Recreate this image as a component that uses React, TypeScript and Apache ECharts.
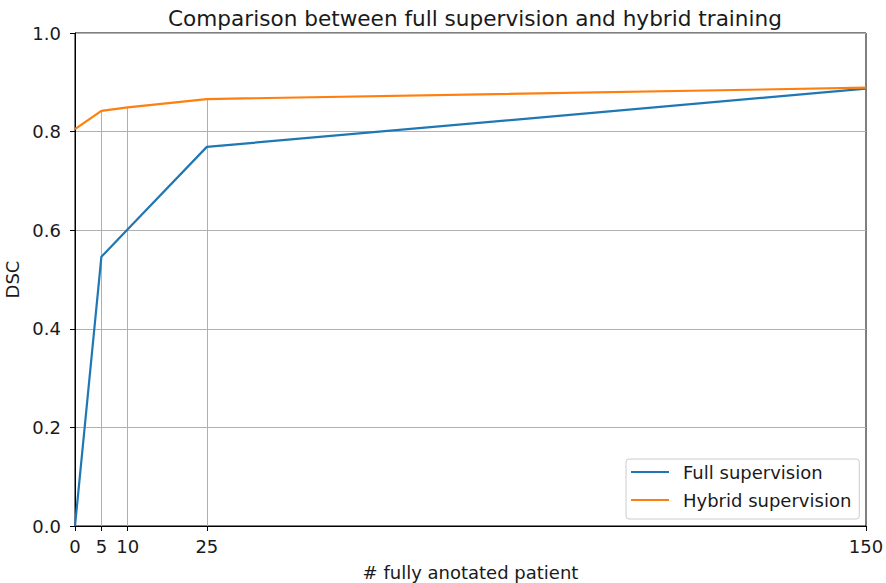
import React, { useEffect, useRef } from "react";
import * as echarts from "echarts";

const xValues = [0, 5, 10, 25, 150];
const fullSupervision = [0.0, 0.546, 0.602, 0.769, 0.887];
const hybridSupervision = [0.805, 0.842, 0.849, 0.866, 0.889];
const xTickLabels = [0, 5, 10, 25, 150];
const guideXs = [5, 10, 25];
const seriesNames = ["Full supervision", "Hybrid supervision"];

const FONT = "DejaVu Sans";
const TXT = "#1a1a1a";

export default function App() {
  const ref = useRef<HTMLDivElement>(null);
  useEffect(() => {
    if (!ref.current) return;
    const chart = echarts.init(ref.current, null, { renderer: "svg" });
    const guideData = guideXs.map((gx) => {
      const idx = xValues.indexOf(gx);
      return [{ coord: [gx, 0] }, { coord: [gx, hybridSupervision[idx]] }];
    });
    chart.setOption({
      animation: false,
      textStyle: { fontFamily: FONT },
      title: {
        text: "Comparison between full supervision and hybrid training",
        left: 470,
        textAlign: "center",
        top: 2,
        textStyle: { fontFamily: FONT, fontSize: 21.6, fontWeight: "normal", color: TXT },
      },
      grid: {
        left: 75,
        right: 20,
        top: 33,
        bottom: 57,
        outerBoundsMode: "none",
        containLabel: false,
        show: true,
        borderColor: "#000",
        borderWidth: 1,
        backgroundColor: "transparent",
      },
      legend: {
        orient: "vertical",
        left: 626,
        top: 459,
        padding: [4, 8, 10, 5],
        itemGap: 10,
        itemWidth: 38,
        itemHeight: 2,
        icon: "rect",
        borderColor: "#cccccc",
        borderWidth: 1,
        borderRadius: 3,
        backgroundColor: "rgba(255,255,255,0.8)",
        textStyle: { fontFamily: FONT, fontSize: 18, lineHeight: 18, color: TXT, padding: [0, 0, 0, 9] },
        data: seriesNames,
      },
      xAxis: {
        type: "value",
        min: 0,
        max: 150,
        name: "# fully anotated patient",
        nameLocation: "middle",
        nameGap: 37,
        nameTextStyle: { fontFamily: FONT, fontSize: 18, color: TXT },
        axisLine: { show: true, lineStyle: { color: "#000", width: 1 } },
        axisTick: {
          show: true,
          inside: false,
          length: 5,
          customValues: xTickLabels,
          lineStyle: { color: "#000" },
        },
        axisLabel: {
          customValues: xTickLabels,
          fontFamily: FONT,
          fontSize: 18,
          color: TXT,
          margin: 11,
        },
        splitLine: { show: false },
      },
      yAxis: {
        type: "value",
        min: 0,
        max: 1,
        interval: 0.2,
        name: "DSC",
        nameLocation: "middle",
        nameGap: 45,
        nameTextStyle: { fontFamily: FONT, fontSize: 18, color: TXT },
        axisLine: { show: true, lineStyle: { color: "#000", width: 1 } },
        axisTick: { show: true, length: 5, lineStyle: { color: "#000" } },
        axisLabel: {
          fontFamily: FONT,
          fontSize: 18,
          color: TXT,
          margin: 14,
          formatter: (v: number) => v.toFixed(1),
        },
        splitLine: { show: true, lineStyle: { color: "#b0b0b0", width: 1 } },
      },
      series: [
        {
          name: seriesNames[0],
          type: "line",
          data: xValues.map((x, i) => [x, fullSupervision[i]]),
          showSymbol: false,
          symbol: "none",
          lineStyle: { color: "#1f77b4", width: 2.2 },
          itemStyle: { color: "#1f77b4" },
          z: 3,
        },
        {
          name: seriesNames[1],
          type: "line",
          data: xValues.map((x, i) => [x, hybridSupervision[i]]),
          showSymbol: false,
          symbol: "none",
          lineStyle: { color: "#ff7f0e", width: 2.2 },
          itemStyle: { color: "#ff7f0e" },
          z: 4,
          markLine: {
            silent: true,
            symbol: ["none", "none"],
            label: { show: false },
            lineStyle: { color: "#b0b0b0", width: 1, type: "solid" },
            z: 1,
            data: guideData,
          },
        },
      ],
    });
    return () => chart.dispose();
  }, []);
  return (
    <div
      ref={ref}
      style={{ position: "fixed", left: 0, top: 0, width: 886, height: 583, background: "#fff" }}
    />
  );
}
